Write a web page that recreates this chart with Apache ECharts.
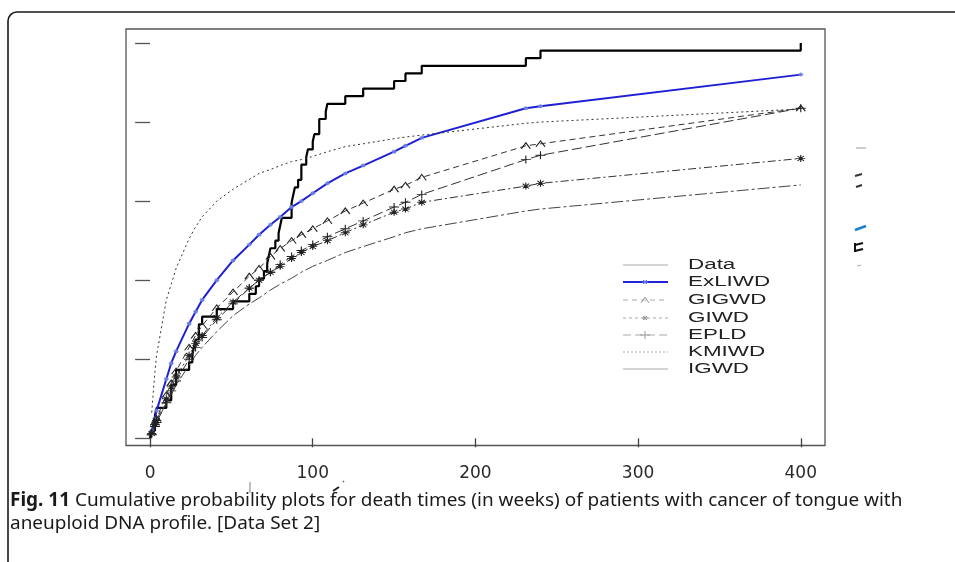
<!DOCTYPE html>
<html><head><meta charset="utf-8">
<script src="https://cdn.jsdelivr.net/npm/echarts@6/dist/echarts.min.js"></script>
<style>html,body{margin:0;padding:0;background:#fff}#c{width:955px;height:562px}</style>
</head><body><div id="c"></div>
<script>
// ---- data ----
const deathTimes = [1,3,3,4,10,13,13,16,16,24,26,27,28,30,30,32,41,51,61,65,67,70,72,73,74,77,79,80,81,87,87,88,89,91,93,93,96,97,100,101,104,104,108,109,120,131,150,157,167,231,240,400];
const fitX   = [1,3,4,10,13,16,24,28,32,41,51,61,67,74,80,87,93,100,109,120,131,150,157,167,231,240,400];
const exliwd = [0.02,0.05,0.07,0.15,0.19,0.22,0.29,0.32,0.35,0.40,0.45,0.49,0.515,0.54,0.56,0.585,0.60,0.62,0.645,0.67,0.69,0.725,0.74,0.76,0.835,0.84,0.92];
const gigwd  = [0.015,0.04,0.05,0.11,0.14,0.17,0.23,0.26,0.285,0.33,0.37,0.41,0.43,0.46,0.48,0.50,0.515,0.53,0.55,0.575,0.595,0.63,0.64,0.66,0.74,0.745,0.835];
const giwd   = [0.012,0.035,0.045,0.10,0.13,0.155,0.21,0.24,0.26,0.305,0.345,0.38,0.40,0.42,0.435,0.455,0.47,0.485,0.50,0.52,0.54,0.572,0.58,0.597,0.638,0.645,0.708];
const epld   = [0.01,0.03,0.04,0.09,0.12,0.145,0.20,0.23,0.255,0.30,0.34,0.38,0.40,0.42,0.44,0.46,0.475,0.49,0.51,0.53,0.55,0.585,0.597,0.617,0.705,0.716,0.835];
const kmiwd  = [0.065,0.17,0.21,0.35,0.39,0.43,0.505,0.535,0.56,0.60,0.63,0.655,0.67,0.68,0.69,0.70,0.705,0.713,0.725,0.738,0.745,0.758,0.762,0.767,0.797,0.80,0.833];
const igwd   = [0.01,0.03,0.04,0.09,0.11,0.135,0.185,0.21,0.23,0.27,0.31,0.34,0.355,0.375,0.39,0.405,0.42,0.435,0.45,0.47,0.485,0.51,0.52,0.53,0.575,0.58,0.641];
const xTicks = [0,100,200,300,400];
const yTicks = [0,0.2,0.4,0.6,0.8,1.0];
const legendNames = ['Data','ExLIWD','GIGWD','GIWD','EPLD','KMIWD','IGWD'];
const captionBold = 'Fig. 11';
const captionLine1 = ' Cumulative probability plots for death times (in weeks) of patients with cancer of tongue with';
const captionLine2 = 'aneuploid DNA profile. [Data Set 2]';

// ---- styles ----
const SYM = {
  star: 'path://M0,5L10,5M5,0L5,10M1.5,1.5L8.5,8.5M8.5,1.5L1.5,8.5',
  tri: 'path://M0,10L5,0L10,10',
  plus: 'path://M0,5L10,5M5,0L5,10'
};
const DASH = {
  gigwd: [6,4], giwd: [8,3,2,3], epld: [10,4], kmiwd: [2,3], igwd: [12,3,3,3]
};

const ecdf = [[0,0]].concat(deathTimes.map((t,i)=>[t,(i+1)/deathTimes.length]));

function fit(name, vals, color, width, dash, symbol, size, symColor){
  return {
    name, type:'line', silent:true, data: fitX.map((x,i)=>[x, vals[i]]),
    symbol: symbol || 'none', showSymbol: !!symbol, symbolSize: size || [8,6],
    lineStyle:{color, width, type: dash || 'solid'},
    itemStyle:{color:'rgba(0,0,0,0)', borderColor: symColor || color, borderWidth: 1},
    z: 3
  };
}

const series = [
  {name:'Data', type:'line', silent:true, step:'end', data: ecdf, symbol:'none',
   lineStyle:{color:'#000', width:2.2}, z:2},
  fit('ExLIWD', exliwd, '#1f1fd6', 2, 'solid', SYM.star, [5,4], '#6a7fe0'),
  fit('GIGWD', gigwd, '#333', 1, DASH.gigwd, SYM.tri, [9,6], '#222'),
  fit('GIWD', giwd, '#333', 1, DASH.giwd, SYM.star, [9,7], '#222'),
  fit('EPLD', epld, '#333', 1, DASH.epld, SYM.plus, [10,8], '#222'),
  fit('KMIWD', kmiwd, '#333', 1, DASH.kmiwd, null),
  fit('IGWD', igwd, '#444', 1, DASH.igwd, null)
];

// ---- legend (drawn) ----
const legendY = [265,282,300,318,335,352,369];
const legendStyle = [
  {c:'#aaa', w:1.2, d:null, m:null},
  {c:'#2222dd', w:2, d:null, m:'star'},
  {c:'#aaa', w:1, d:[5,4], m:'tri'},
  {c:'#aaa', w:1, d:[3,3], m:'star'},
  {c:'#aaa', w:1, d:[8,4], m:'plus'},
  {c:'#aaa', w:1, d:[2,2], m:null},
  {c:'#aaa', w:1.2, d:null, m:null}
];
const graphics = [];
graphics.push({type:'rect', shape:{x:8, y:12, width:1200, height:800, r:[9,0,0,0]},
  style:{fill:'none', stroke:'#1a1a1a', lineWidth:1.6}, silent:true});
legendNames.forEach((n,i)=>{
  const y = legendY[i], s = legendStyle[i];
  graphics.push({type:'line', shape:{x1:623,y1:y,x2:668,y2:y}, style:{stroke:s.c, lineWidth:s.w, lineDash:s.d}, silent:true, z:10});
  const cx = 645, mc = i===1 ? '#6a7fe0' : '#999';
  if (s.m==='star'){
    [[-3,0,3,0],[0,-2,0,2],[-2,-2,2,2],[2,-2,-2,2]].forEach(p=>graphics.push({type:'line', shape:{x1:cx+p[0],y1:y+p[1],x2:cx+p[2],y2:y+p[3]}, style:{stroke:mc,lineWidth:1}, silent:true, z:10}));
  } else if (s.m==='tri'){
    graphics.push({type:'polyline', shape:{points:[[cx-4,y+3],[cx,y-3],[cx+4,y+3]]}, style:{stroke:mc,lineWidth:1,fill:'none'}, silent:true, z:10});
  } else if (s.m==='plus'){
    graphics.push({type:'line', shape:{x1:cx-5,y1:y,x2:cx+5,y2:y}, style:{stroke:mc,lineWidth:1}, silent:true, z:10});
    graphics.push({type:'line', shape:{x1:cx,y1:y-4,x2:cx,y2:y+4}, style:{stroke:mc,lineWidth:1}, silent:true, z:10});
  }
  graphics.push({type:'text', x:688, y:y, scaleX:1.6, style:{text:n, font:'14px "Liberation Sans", Arial, sans-serif', fill:'#222', verticalAlign:'middle'}, silent:true, z:10});
});

// ---- caption ----
const capFont = '"Noto Sans", sans-serif';
const cv = document.createElement('canvas').getContext('2d');
let capSize = 17;
cv.font = 'bold ' + capSize + 'px ' + capFont;
let wB = cv.measureText(captionBold).width;
cv.font = capSize + 'px ' + capFont;
let wT = cv.measureText(captionLine1).width;
capSize = capSize * 893 / (wB + wT);
graphics.push({type:'text', x:10, y:501, style:{
  text:'{b|' + captionBold + '}{r|' + captionLine1 + '}', verticalAlign:'middle',
  rich:{b:{fontWeight:'bold', fontSize:capSize, fontFamily:capFont, fill:'#1a1a1a'},
        r:{fontSize:capSize, fontFamily:capFont, fill:'#1a1a1a'}}}, silent:true});
graphics.push({type:'text', x:10, y:524, style:{text:captionLine2, fontSize:capSize, fontFamily:capFont, fill:'#1a1a1a', verticalAlign:'middle'}, silent:true});

// ---- small scan remnants at the crop edges ----
[
  {x1:856,y1:148,x2:866,y2:148,c:'#bbb',w:1.5},
  {x1:855,y1:176,x2:862,y2:174,c:'#333',w:2},
  {x1:856,y1:187,x2:862,y2:185,c:'#333',w:2},
  {x1:855,y1:230,x2:866,y2:226,c:'#1e7fd0',w:2.5},
  {x1:855,y1:245,x2:863,y2:243,c:'#111',w:2},
  {x1:855,y1:251,x2:863,y2:249,c:'#111',w:2},
  {x1:855,y1:243,x2:855,y2:252,c:'#111',w:2},
  {x1:857,y1:266,x2:861,y2:265,c:'#aaa',w:1},
  {x1:250,y1:482,x2:250,y2:493,c:'#aaa',w:1.5},
  {x1:333,y1:491,x2:339,y2:487,c:'#222',w:2},
  {x1:343,y1:481,x2:344,y2:482,c:'#555',w:1.5}
].forEach(a=>graphics.push({type:'line', shape:{x1:a.x1,y1:a.y1,x2:a.x2,y2:a.y2}, style:{stroke:a.c,lineWidth:a.w}, silent:true}));

const chart = echarts.init(document.getElementById('c'), null, {renderer:'canvas'});
chart.setOption({
  animation:false,
  backgroundColor:'#fff',
  grid:{left:126, top:29, right:130, bottom:116.5, show:true, borderColor:'#555', borderWidth:1.3, backgroundColor:'transparent'},
  xAxis:{type:'value', min:-14.8, max:414.9,
    axisLine:{show:false},
    axisTick:{show:true, customValues:xTicks, length:9, lineStyle:{color:'#444', width:1.3}},
    axisLabel:{show:true, customValues:xTicks, margin:20, color:'#2a2a2a', fontSize:17, fontFamily:'"DejaVu Sans", sans-serif'},
    splitLine:{show:false}},
  yAxis:{type:'value', min:-0.0182, max:1.0354,
    axisLine:{show:false},
    axisTick:{show:true, customValues:yTicks, length:15, lineStyle:{color:'#555', width:1.3}},
    axisLabel:{show:false}, splitLine:{show:false}},
  series,
  graphic: graphics
});
</script></body></html>
